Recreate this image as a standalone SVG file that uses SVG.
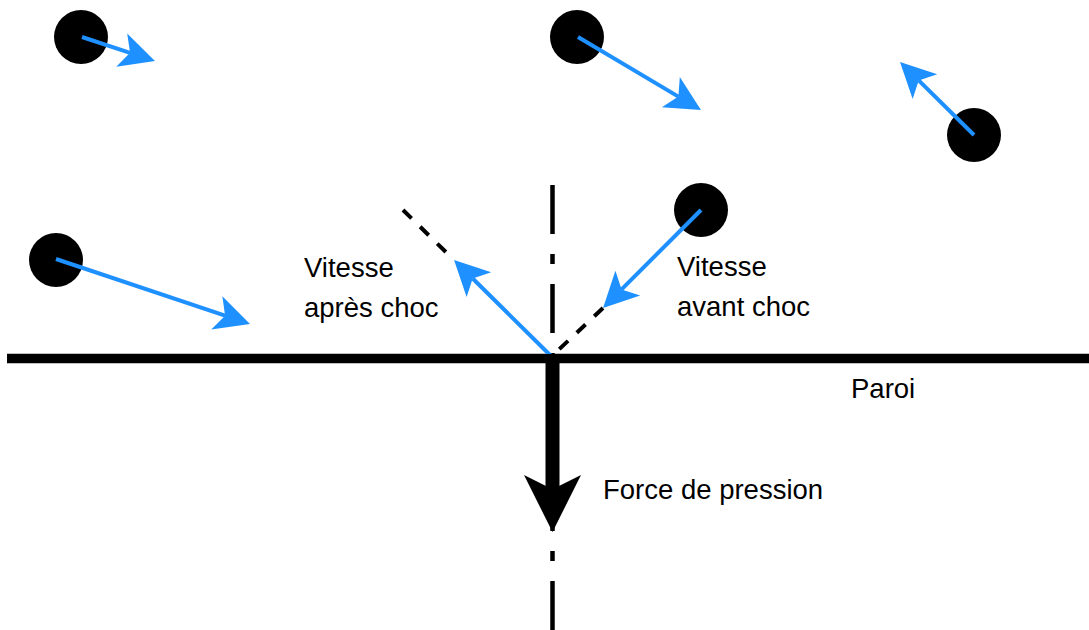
<svg xmlns="http://www.w3.org/2000/svg" width="1089" height="630" viewBox="0 0 1089 630">
  <style>
    .particle { fill: #000000; }
    .vel { stroke: #1E90FF; stroke-width: 4; fill: none; marker-end: url(#blueArrow); }
    .trace { stroke: #000000; stroke-width: 4; fill: none; stroke-dasharray: 12 12; }
    .label { font-family: "Liberation Sans", Arial, sans-serif; font-size: 27.5px; fill: #000000; }
  </style>
  <defs>
    <marker id="blueArrow" markerUnits="userSpaceOnUse" orient="auto" refX="0" refY="0" markerWidth="40" markerHeight="40" overflow="visible">
      <path d="M26.25,0 L-8.75,-17.5 L0,0 L-8.75,17.5 Z" fill="#1E90FF"/>
    </marker>
    <marker id="blackArrow" markerUnits="userSpaceOnUse" orient="auto" refX="0" refY="0" markerWidth="60" markerHeight="60" overflow="visible">
      <path d="M42.75,0 L-14.25,-28.5 L0,0 L-14.25,28.5 Z" fill="#000000"/>
    </marker>
  </defs>
  <rect width="1089" height="630" fill="#ffffff"/>

  <g id="wall">
    <line x1="7" y1="358.5" x2="1089" y2="358.5" stroke="#000" stroke-width="9.5"/>
  </g>
  <g id="normal-axis">
    <line x1="552.5" y1="185" x2="552.5" y2="630" stroke="#000" stroke-width="4.5" stroke-dasharray="49 20 10 20"/>
  </g>

  <g id="particle-1"><circle class="particle" cx="81" cy="37" r="27"/></g>
  <g id="particle-2"><circle class="particle" cx="577" cy="37" r="27"/></g>
  <g id="particle-3"><circle class="particle" cx="974" cy="135" r="27"/></g>
  <g id="particle-4"><circle class="particle" cx="701" cy="210" r="27"/></g>
  <g id="particle-5"><circle class="particle" cx="56" cy="260" r="27"/></g>

  <g id="connectors">
    <line class="trace" x1="403" y1="210" x2="454" y2="260"/>
    <line class="trace" x1="603" y1="308" x2="552" y2="356"/>
    <line class="vel" x1="82" y1="37" x2="130.05" y2="52.8"/>
    <line class="vel" x1="578" y1="37" x2="678.4" y2="96.6"/>
    <line class="vel" x1="974" y1="135" x2="918.7" y2="80.45"/>
    <line class="vel" x1="701" y1="210" x2="621.6" y2="289.4"/>
    <line class="vel" x1="56" y1="259" x2="225.1" y2="315.65"/>
    <line class="vel" x1="551" y1="356" x2="472.7" y2="278.5"/>
    <line x1="552.5" y1="354" x2="552.5" y2="489.25" stroke="#000" stroke-width="14" marker-end="url(#blackArrow)"/>
  </g>

  <g id="label-apres">
    <text class="label" x="304" y="277">Vitesse</text>
    <text class="label" x="304" y="317">après choc</text>
  </g>
  <g id="label-avant">
    <text class="label" x="677" y="276">Vitesse</text>
    <text class="label" x="677" y="316">avant choc</text>
  </g>
  <g id="label-paroi">
    <text class="label" x="851" y="398">Paroi</text>
  </g>
  <g id="label-force">
    <text class="label" x="603" y="499">Force de pression</text>
  </g>
</svg>
